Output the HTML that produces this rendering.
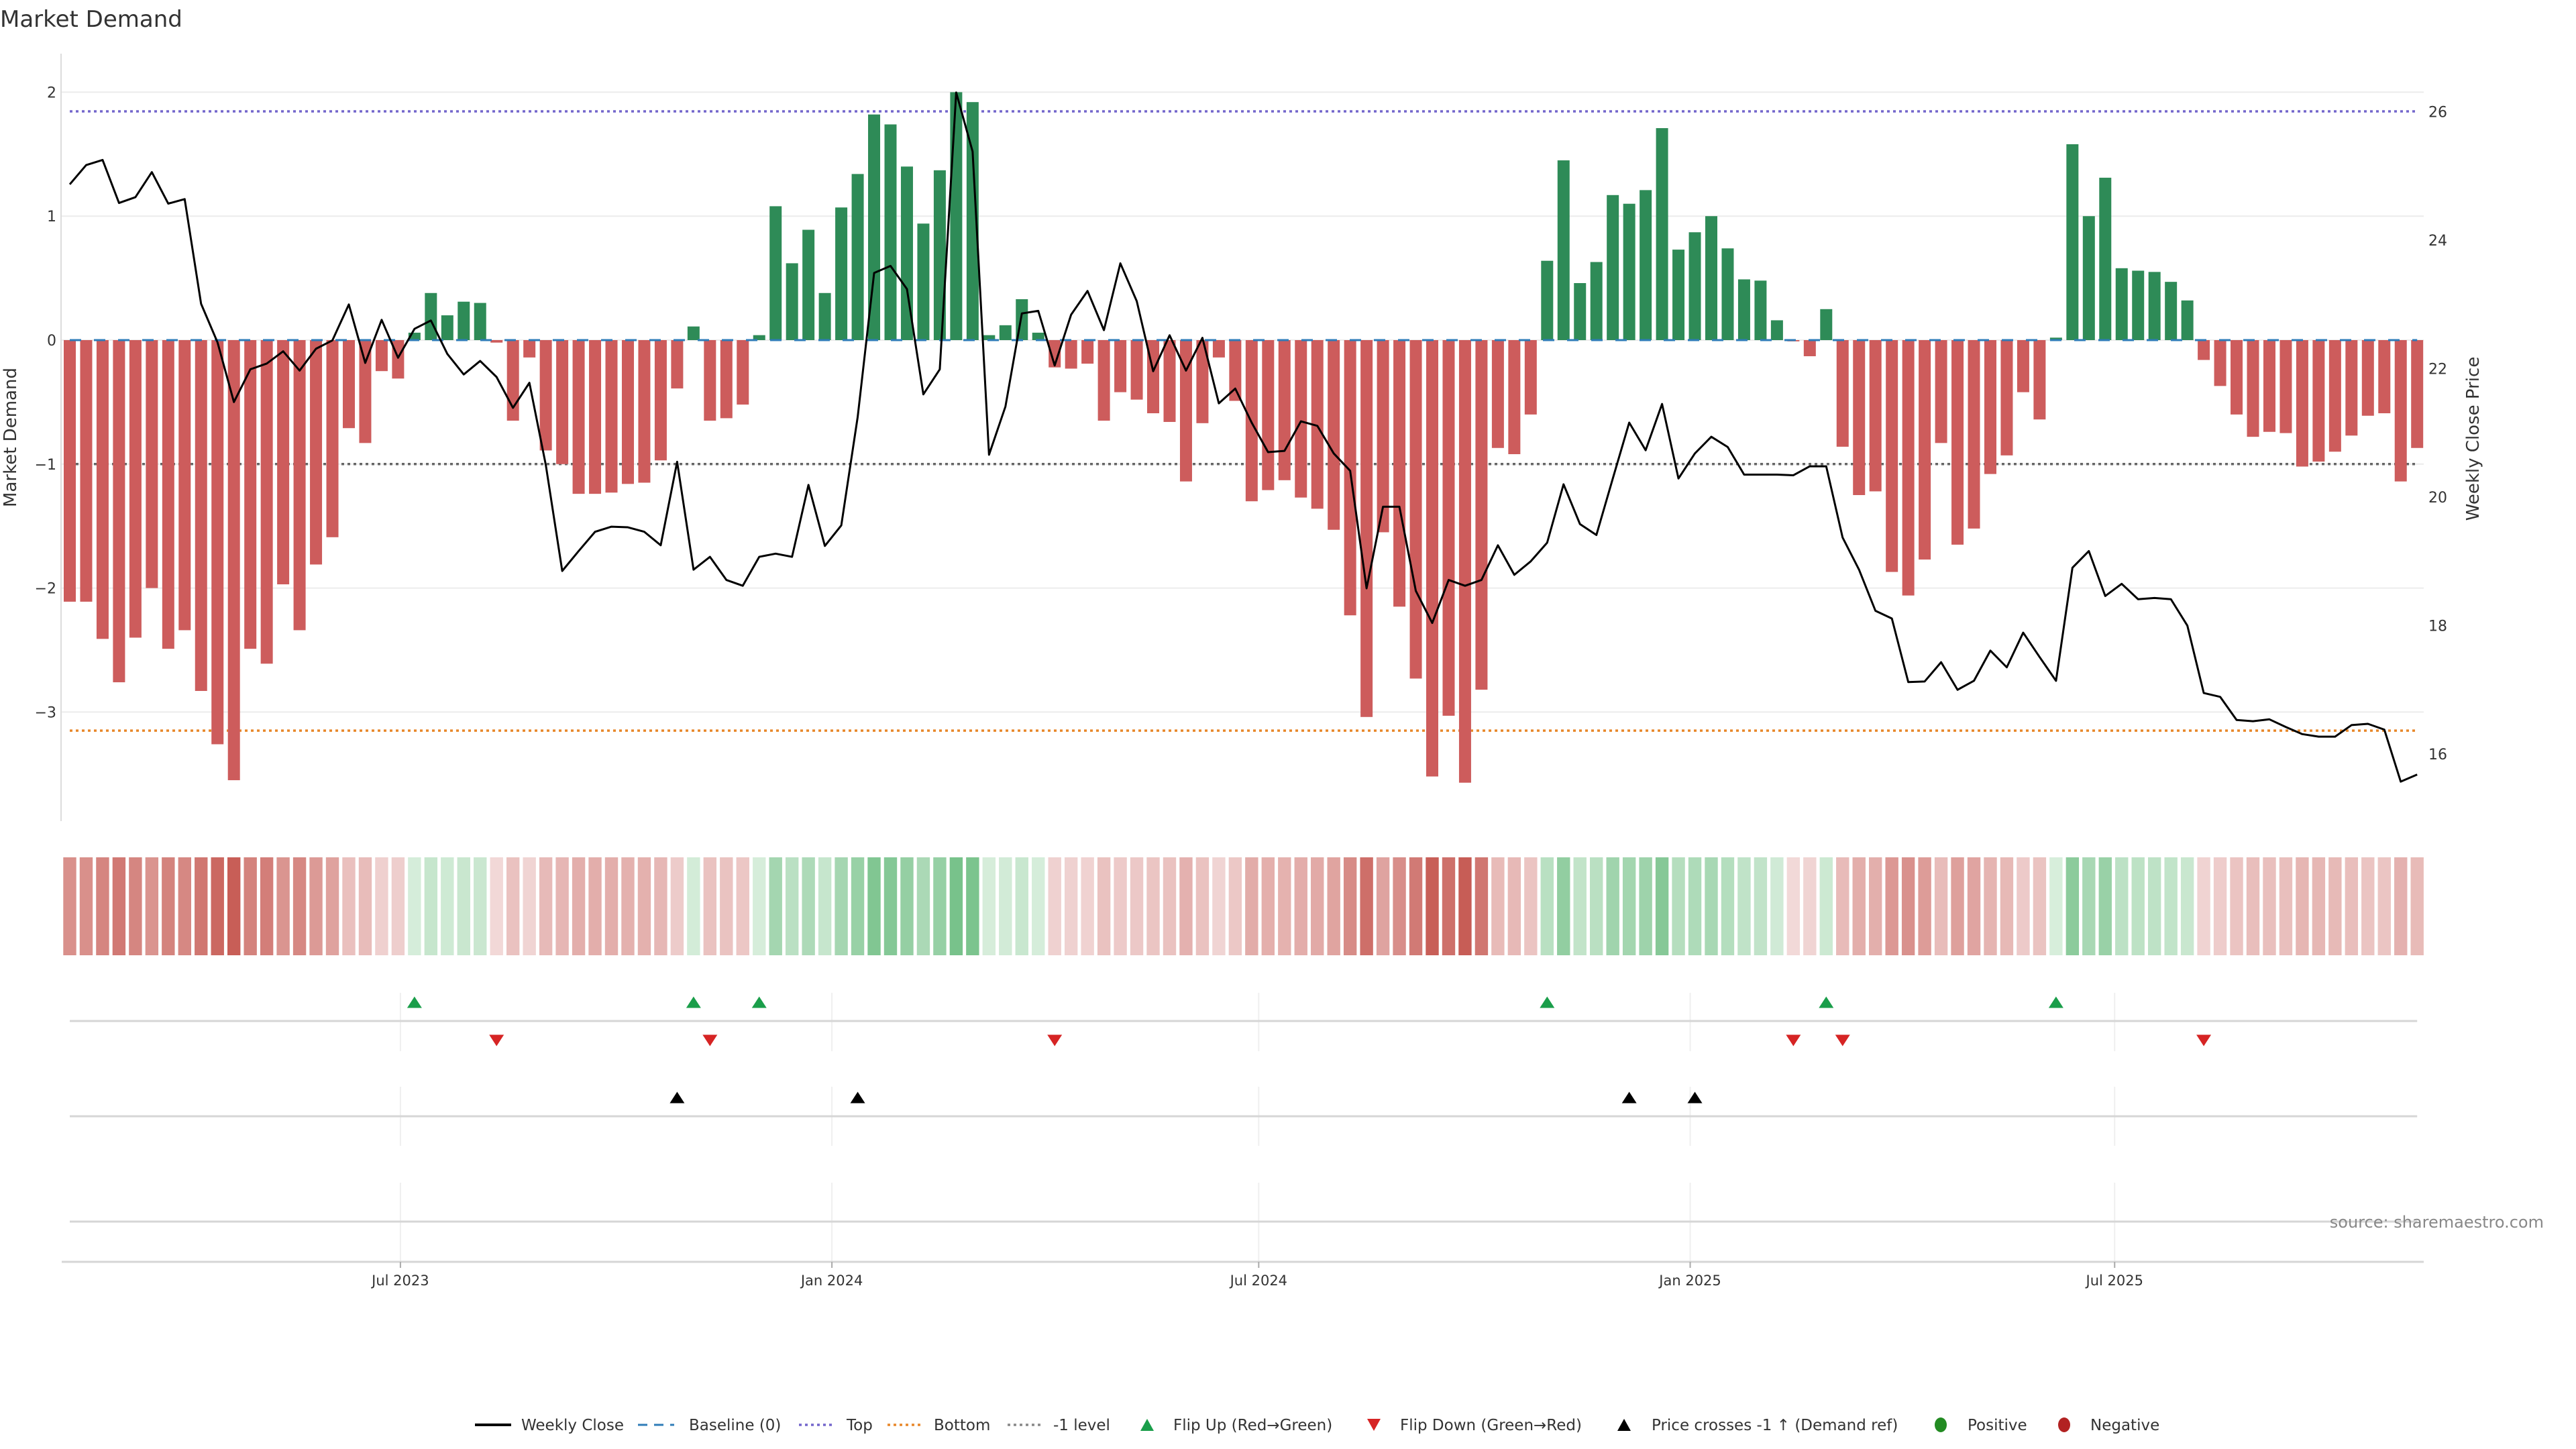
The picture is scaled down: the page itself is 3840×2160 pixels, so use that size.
<!DOCTYPE html>
<html><head><meta charset="utf-8"><style>
html,body{margin:0;padding:0;background:#fff;}
svg{display:block;font-family:"DejaVu Sans","Liberation Sans",sans-serif;}
</style></head><body>
<svg id="chart" width="3840" height="2160" viewBox="0 0 3840 2160" xmlns="http://www.w3.org/2000/svg">
<text x="0" y="40" font-size="34" fill="#333">Market Demand</text>
<g id="grid"></g><g id="refs"></g><g id="bars"></g><g id="line"></g><g id="axes"></g><g id="strip"></g><g id="rows"></g><g id="legend"></g>
<text transform="translate(24,652) rotate(-90)" text-anchor="middle" font-size="26" fill="#333">Market Demand</text>
<text transform="translate(3695,654) rotate(-90)" text-anchor="middle" font-size="26" fill="#333">Weekly Close Price</text>
<text x="3792" y="1830" text-anchor="end" font-size="24" fill="#888">source: sharemaestro.com</text>
</svg>
<script>
const startDate = "2023-02-10";
const demand = [-2.11,-2.11,-2.41,-2.76,-2.40,-2.00,-2.49,-2.34,-2.83,-3.26,
-3.55,-2.49,-2.61,-1.97,-2.34,-1.81,-1.59,-0.71,-0.83,-0.25,
-0.31,0.06,0.38,0.20,0.31,0.30,-0.02,-0.65,-0.14,-0.89,
-1.00,-1.24,-1.24,-1.23,-1.16,-1.15,-0.97,-0.39,0.11,-0.65,
-0.63,-0.52,0.04,1.08,0.62,0.89,0.38,1.07,1.34,1.82,
1.74,1.40,0.94,1.37,2.00,1.92,0.04,0.12,0.33,0.06,
-0.22,-0.23,-0.19,-0.65,-0.42,-0.48,-0.59,-0.66,-1.14,-0.67,
-0.14,-0.49,-1.30,-1.21,-1.13,-1.27,-1.36,-1.53,-2.22,-3.04,
-1.55,-2.15,-2.73,-3.52,-3.03,-3.57,-2.82,-0.87,-0.92,-0.60,
0.64,1.45,0.46,0.63,1.17,1.10,1.21,1.71,0.73,0.87,
1.00,0.74,0.49,0.48,0.16,-0.01,-0.13,0.25,-0.86,-1.25,
-1.22,-1.87,-2.06,-1.77,-0.83,-1.65,-1.52,-1.08,-0.93,-0.42,
-0.64,0.02,1.58,1.00,1.31,0.58,0.56,0.55,0.47,0.32,
-0.16,-0.37,-0.60,-0.78,-0.74,-0.75,-1.02,-0.98,-0.90,-0.77,
-0.61,-0.59,-1.14,-0.87];
const price = [24.87,25.17,25.25,24.58,24.67,25.06,24.57,24.64,23.01,22.41,
21.48,21.99,22.08,22.27,21.97,22.31,22.44,23.00,22.09,22.76,
22.17,22.62,22.75,22.23,21.91,22.12,21.87,21.39,21.78,20.50,
18.85,19.16,19.46,19.54,19.53,19.46,19.25,20.55,18.87,19.07,
18.71,18.62,19.07,19.12,19.07,20.19,19.24,19.56,21.25,23.49,
23.60,23.24,21.60,21.99,26.30,25.38,20.66,21.41,22.86,22.90,
22.05,22.84,23.21,22.60,23.64,23.05,21.96,22.52,21.97,22.48,
21.46,21.69,21.16,20.70,20.72,21.18,21.11,20.68,20.41,18.58,
19.85,19.85,18.54,18.04,18.71,18.62,18.71,19.25,18.79,19.00,
19.29,20.20,19.58,19.41,20.29,21.16,20.73,21.45,20.29,20.68,
20.94,20.78,20.35,20.35,20.35,20.34,20.48,20.48,19.37,18.87,
18.23,18.11,17.12,17.13,17.43,17.00,17.14,17.61,17.35,17.89,
17.51,17.14,18.90,19.16,18.46,18.65,18.41,18.43,18.41,18.00,
16.95,16.89,16.53,16.51,16.54,16.42,16.31,16.27,16.27,16.45,
16.47,16.38,15.57,15.68];
const levelTop = 1.845;
const levelBottom = -3.15;
const levelMinus1 = -1;
const yTicks = [-3,-2,-1,0,1,2];
const y2Ticks = [16,18,20,22,24,26];
const xTickDates = ["2023-07-01","2024-01-01","2024-07-01","2025-01-01","2025-07-01"];
const xTickLabels = ["Jul 2023","Jan 2024","Jul 2024","Jan 2025","Jul 2025"];

const NS="http://www.w3.org/2000/svg";
function mk(parent,tag,attrs,text){const e=document.createElementNS(NS,tag);for(const k in attrs)e.setAttribute(k,attrs[k]);if(text!==undefined)e.textContent=text;parent.appendChild(e);return e;}
const X0=104, STEP=24.47, BW=18;
const xi=i=>X0+i*STEP;
const t0=new Date(startDate+"T00:00:00Z").getTime();
const xd=s=>X0+(new Date(s+"T00:00:00Z").getTime()-t0)/(7*864e5)*STEP;
const Y0=507, YU=184.8;
const yD=v=>Y0-v*YU;
const yP=p=>166.6+(26-p)*95.74;
const PL=91, PR=3613;
const G=id=>document.getElementById(id);

yTicks.forEach(v=>{
  const l=mk(G('grid'),'line',{x1:PL,x2:PR,y1:yD(v),y2:yD(v),stroke:'#ececec','stroke-width':2});
  
  
  const t=mk(G('axes'),'text',{x:84,y:yD(v)+8,'text-anchor':'end','font-size':22,fill:'#333'},String(v).replace('-','\u2212'));
  
  
});
y2Ticks.forEach(p=>{
  const t=mk(G('axes'),'text',{x:3620,y:yP(p)+8,'font-size':22,fill:'#333'},String(p));
  
  
});
const ax=mk(G('axes'),'line',{x1:PL,x2:PL,y1:80,y2:1224,stroke:'#dcdcdc','stroke-width':2});



demand.forEach((v,i)=>{
  const y=Math.min(yD(v),Y0), h=Math.abs(yD(v)-Y0);
  const r=mk(G('bars'),'rect',{x:xi(i)-BW/2,y:y,width:BW,height:Math.max(h,0.5),fill:v>=0?'#2e8b57':'#cd5c5c'});
  
  
});
function refLine(y,color,dash,name,w){
  const l=mk(G('refs'),'line',{x1:X0,x2:xi(demand.length-1),y1:y,y2:y,stroke:color,'stroke-width':w||3.5,'stroke-dasharray':dash});
  
  
}
refLine(yD(levelTop),'#7466cc','4 5','top-line');
refLine(yD(levelBottom),'#e8872a','4 5','bottom-line');
refLine(yD(levelMinus1),'#666','4 5','minus1-level-line');
const base=mk(G('line'),'line',{x1:X0,x2:xi(demand.length-1),y1:Y0,y2:Y0,stroke:'#2f7cb8','stroke-width':3,'stroke-dasharray':'17 19'});


const pl=mk(G('line'),'polyline',{points:price.map((p,i)=>xi(i)+','+yP(p)).join(' '),fill:'none',stroke:'#000','stroke-width':3,'stroke-linejoin':'round'});



function mix(a,b,t){return 'rgb('+a.map((c,k)=>Math.round(c+(b[k]-c)*t)).join(',')+')';}
demand.forEach((v,i)=>{
  const c=v>=0?mix([216,238,220],[120,194,139],Math.min(v/2,1)):mix([242,217,216],[199,92,85],Math.min(-v/3.6,1));
  const r=mk(G('strip'),'rect',{x:xi(i)-9.7,y:1278,width:19.4,height:146,fill:c});
  
  
});

[[1480,1567,1522],[1620,1708,1664],[1763,1881,1821]].forEach(([a,b,ly])=>{
  xTickDates.forEach(d=>{
    const g=mk(G('rows'),'line',{x1:xd(d),x2:xd(d),y1:a,y2:b,stroke:'#efefef','stroke-width':2});
    
    
  });
  const l=mk(G('rows'),'line',{x1:X0,x2:xi(demand.length-1),y1:ly,y2:ly,stroke:'#d6d6d6','stroke-width':3});
  
  
});
const xa=mk(G('rows'),'line',{x1:92,x2:PR,y1:1881,y2:1881,stroke:'#d6d6d6','stroke-width':3});


xTickDates.forEach((d,k)=>{
  const tk=mk(G('rows'),'line',{x1:xd(d),x2:xd(d),y1:1881,y2:1890,stroke:'#aaa','stroke-width':2});
  
  
  const t=mk(G('rows'),'text',{x:xd(d),y:1916,'text-anchor':'middle','font-size':21,fill:'#333'},xTickLabels[k]);
  
  
});
function tri(x,cy,up,color,name){
  const w=11,h=8.5;
  const pts=up?[[x,cy-h],[x+w,cy+h],[x-w,cy+h]]:[[x-w,cy-h],[x+w,cy-h],[x,cy+h]];
  const p=mk(G('rows'),'polygon',{points:pts.map(q=>q.join(',')).join(' '),fill:color});
  
  
  return p;
}
const crossThresh=26-(yD(levelMinus1)-166.6)/95.74;
for(let i=1;i<demand.length;i++){
  if(demand[i-1]<0&&demand[i]>=0) tri(xi(i),1494,true,'#1a9e4a','flip-up-marker');
  if(demand[i-1]>=0&&demand[i]<0) tri(xi(i),1551,false,'#d62424','flip-down-marker');
  if(price[i-1]<crossThresh&&price[i]>=crossThresh) tri(xi(i),1636,true,'#000','price-cross-marker');
}

const L=G('legend'), LY=2124;
function lgText(x,s){const t=mk(L,'text',{x:x,y:LY+8,'font-size':23,fill:'#333'},s);}
function lgLine(x,color,dash,w){const l=mk(L,'line',{x1:x,x2:x+54,y1:LY,y2:LY,stroke:color,'stroke-width':w,'stroke-dasharray':dash});}
lgLine(708,'#000','none',4);lgText(777,'Weekly Close');
lgLine(951,'#2f7cb8','14 10',3);lgText(1027,'Baseline (0)');
lgLine(1191,'#7466cc','4 5',3.5);lgText(1262,'Top');
lgLine(1323,'#e8872a','4 5',3.5);lgText(1392,'Bottom');
lgLine(1502,'#888','4 5',3.5);lgText(1570,'-1 level');
function lgTri(x,up,c){const w=10,h=9;const pts=up?[[x,LY-h],[x+w,LY+h],[x-w,LY+h]]:[[x-w,LY-h],[x+w,LY-h],[x,LY+h]];const p=mk(L,'polygon',{points:pts.map(q=>q.join(',')).join(' '),fill:c});}
lgTri(1710,true,'#1a9e4a');lgText(1749,'Flip Up (Red\u2192Green)');
lgTri(2048,false,'#d62424');lgText(2087,'Flip Down (Green\u2192Red)');
lgTri(2421,true,'#000');lgText(2462,'Price crosses -1 \u2191 (Demand ref)');
function lgDot(x,c){const d=mk(L,'ellipse',{cx:x,cy:LY,rx:9,ry:11,fill:c});}
lgDot(2893,'#228b22');lgText(2933,'Positive');
lgDot(3077,'#b22222');lgText(3116,'Negative');
</script>
</body></html>
